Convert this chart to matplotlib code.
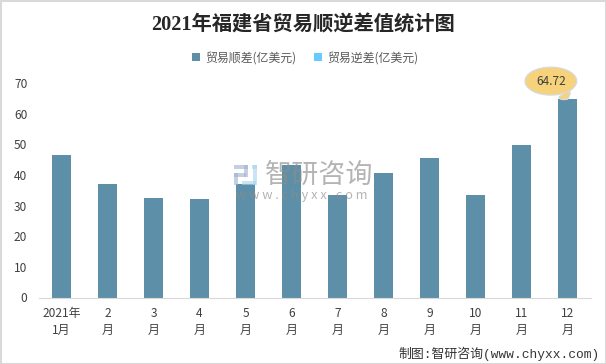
import matplotlib
matplotlib.use('Agg')
import matplotlib.pyplot as plt
from matplotlib.patches import Rectangle

plt.rcParams['font.family'] = ['Noto Sans CJK SC', 'DejaVu Sans']

months = ['2021年\n1月', '2\n月', '3\n月', '4\n月', '5\n月', '6\n月',
          '7\n月', '8\n月', '9\n月', '10\n月', '11\n月', '12\n月']
surplus = [46.6, 37.2, 32.4, 32.0, 37.2, 43.2, 33.3, 40.7, 45.6, 33.6, 49.8, 64.72]
deficit = [0, 0, 0, 0, 0, 0, 0, 0, 0, 0, 0, 0]
yticks = [0, 10, 20, 30, 40, 50, 60, 70]

W, H = 606, 364
BLUE = '#5D90A8'
LIGHT = '#66CCFF'
TXT = '#404040'


def main():
    fig = plt.figure(figsize=(W / 100, H / 100), dpi=100)
    ax = fig.add_axes([38.5 / W, 1 - 297.5 / H, 552 / W, 214.5 / H])

    x = list(range(len(months)))
    b1 = ax.bar(x, surplus, width=0.413, color=BLUE, label='贸易顺差(亿美元)')
    b2 = ax.bar(x, deficit, width=0.413, bottom=surplus, color=LIGHT, label='贸易逆差(亿美元)')

    ax.set_xlim(-0.5, 11.5)
    ax.set_ylim(0, 70)
    ax.set_yticks(yticks)
    ax.set_xticks(x)
    ax.set_xticklabels(months, linespacing=1.35)
    ax.tick_params(axis='both', length=0, labelsize=8.6, labelcolor=TXT)
    ax.tick_params(axis='y', pad=8)
    ax.tick_params(axis='x', pad=7)
    for s in ['top', 'left', 'right']:
        ax.spines[s].set_visible(False)
    ax.spines['bottom'].set_color('#D9D9D9')

    # callout on the last bar
    ax.annotate(f'{surplus[-1]:.2f}', xy=(11, surplus[-1]), xytext=(-12, 13),
                textcoords='offset points', ha='center', va='center',
                fontsize=8.6, color=TXT, annotation_clip=False,
                bbox=dict(boxstyle='ellipse,pad=0.28', fc='#F6D27A', ec='#D9D9D9', lw=1),
                arrowprops=dict(arrowstyle='wedge,tail_width=0.6,shrink_factor=0.9',
                                mutation_scale=14, relpos=(0.72, 0.3),
                                fc='#F6D27A', ec='#D9D9D9', lw=1, shrinkA=0, shrinkB=0))

    fig.legend(handles=[b1, b2], loc='center', bbox_to_anchor=(305 / W, 1 - 58 / H),
               ncol=2, frameon=False, fontsize=8.6, labelcolor='#595959',
               handlelength=0.65, handleheight=0.65, handletextpad=0.45, columnspacing=1.5)

    fig.text(303 / W, 1 - 25 / H, '2021年福建省贸易顺逆差值统计图', ha='center', va='center',
             fontsize=14.6, fontweight='bold', color='#262626',
             family=['Liberation Serif', 'Noto Sans CJK SC'])

    fig.text(600 / W, 1 - 354 / H, '制图:智研咨询(www.chyxx.com)', ha='right', va='center',
             fontsize=9.3, color='#333333', family=['Liberation Mono', 'Noto Sans CJK SC'])

    # watermark, drawn above the bars
    fig.text(319 / W, 1 - 175 / H, '智研咨询', ha='center', va='center', fontsize=19.5,
             color='#8C8C8C', alpha=0.65, zorder=10)
    fig.text(302 / W, 1 - 195 / H, 'w w w . c h y x x . c o m', ha='center', va='center',
             fontsize=9.2, color='#8C8C8C', alpha=0.65, zorder=10)
    for px, py, pw, ph, c in [(234, 165, 14, 4, '#9FB0D0'), (244, 165, 4, 12, '#9FB0D0'),
                              (234, 173, 12, 4, '#9FB0D0'), (234, 173, 4, 12, '#9FB0D0'),
                              (252, 165, 5, 4, '#A9D3EE'), (253, 165, 4, 20, '#A9D3EE'),
                              (242, 181, 14, 4, '#A9D3EE')]:
        fig.add_artist(Rectangle((px / W, 1 - (py + ph) / H), pw / W, ph / H,
                                 transform=fig.transFigure, fc=c, ec='none', alpha=0.6, zorder=10))

    # image border
    fig.add_artist(Rectangle((0.5 / W, 0.5 / H), (W - 1) / W, (H - 1) / H, transform=fig.transFigure,
                             fc='none', ec='#D9D9D9', lw=1.5))

    fig.savefig('out.png', dpi=100)


if __name__ == "__main__":
    main()
